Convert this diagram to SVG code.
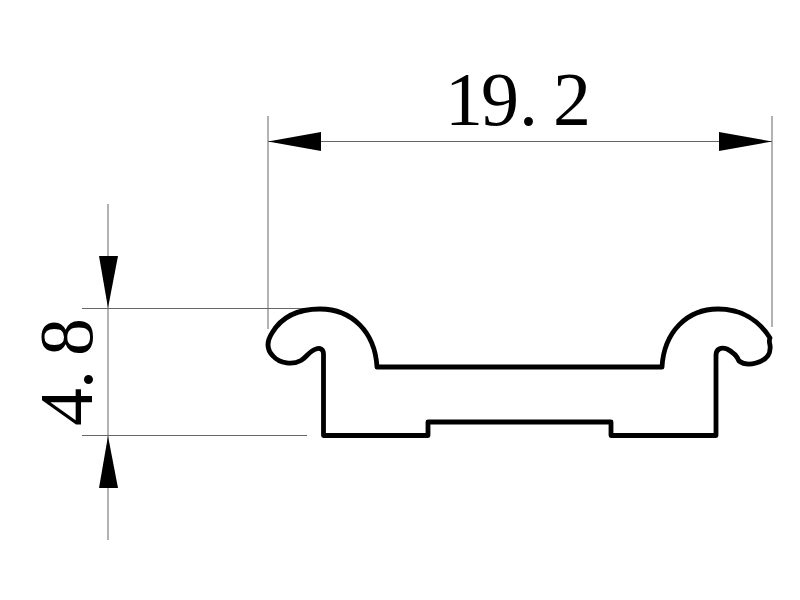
<svg xmlns="http://www.w3.org/2000/svg" width="800" height="600" viewBox="0 0 800 600">
<style>
.dim{fill:none;stroke:#666;stroke-width:1}
.arrow{fill:#000;stroke:none}
.profile{fill:none;stroke:#000;stroke-width:4.8;stroke-linejoin:round}
.label{font-family:"Liberation Serif","Times New Roman",serif;font-size:76px;fill:#000}
</style>
<rect width="800" height="600" fill="#fff"/>
<g id="connectors">
<path class="dim" d="M268 116V329M772 116V327M268 141.500H772"/>
<path class="dim" d="M82 308.500H305M82 435.500H307M108 204V540"/>
<path class="arrow" d="M268 141.500L321 132V151Z"/>
<path class="arrow" d="M772 141.500L719 132V151Z"/>
<path class="arrow" d="M108 308L99 256H118Z"/>
<path class="arrow" d="M108 436L99 488H118Z"/>
</g>
<g id="profile">
<path class="profile" d="M323.500 435.500V354C323.500 349 320 347.500 316 349C309 351 307 357 301 360.500C293 365 280 364 273 356C266 349 267 341 272 333C282 316 299 309 320 309C352 309 375 332 377 367H662C664 332 687 309 718 309C741 309 759 320 770 338C768 342 771 345 770 349C770 355 766 360 756 363C749 365 743 364 739 361C737 356 733 352 727 349C721 347 716 349 716 355V435.500H611V422H428V435.500Z"/>
</g>
<g id="label-width"><text class="label" x="445 481 519 540 553" y="125">19. 2</text></g>
<g id="label-height"><text class="label" transform="translate(92 426) rotate(-90)" x="0 37 55 70">4. 8</text></g>
</svg>
